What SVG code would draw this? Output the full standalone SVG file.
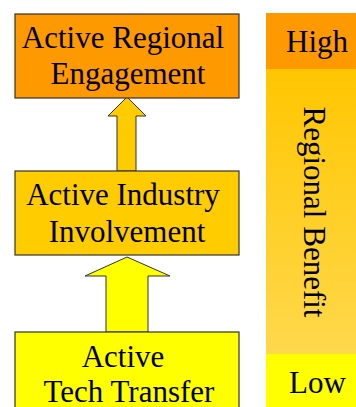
<svg xmlns="http://www.w3.org/2000/svg" width="356" height="407" viewBox="0 0 356 407">
<style>
.box{stroke:#333;stroke-width:1.2}
.arr{stroke:#333;stroke-width:1}
text{font-family:"Liberation Serif","Times New Roman",serif;font-size:31px;fill:#000;text-anchor:middle}
</style>
<defs>
<linearGradient id="g" x1="0" y1="0" x2="0" y2="1">
<stop offset="0" stop-color="#FFC600"/>
<stop offset="1" stop-color="#FFD84C"/>
</linearGradient>
</defs>
<rect width="356" height="407" fill="#fff"/>
<g id="scale">
<rect x="266" y="13" width="90" height="56" fill="#FF9900"/>
<rect x="266" y="69" width="90" height="285" fill="url(#g)"/>
<rect x="266" y="354" width="90" height="53" fill="#FFFF00"/>
<text x="317" y="52">High</text>
<text x="317.5" y="393">Low</text>
<text transform="translate(304 212) rotate(90)">Regional Benefit</text>
</g>
<g id="connectors">
<polygon class="arr" fill="#FFCC00" points="127,97 146,116 136,116 136,171 117,171 117,116 108,116"/>
<polygon class="arr" fill="#FFFF00" points="127,257 170,276 148,276 148,332 106,332 106,276 85,276"/>
</g>
<g id="n1">
<rect class="box" x="15" y="14" width="224" height="84" fill="#FF9900"/>
<text x="123" y="48">Active Regional</text>
<text x="128" y="84">Engagement</text>
</g>
<g id="n2">
<rect class="box" x="15" y="171" width="224" height="84" fill="#FFCC00"/>
<text x="123" y="205">Active Industry</text>
<text x="127" y="242">Involvement</text>
</g>
<g id="n3">
<rect class="box" x="15" y="332" width="224" height="90" fill="#FFFF00"/>
<text x="123" y="367">Active</text>
<text x="129" y="402">Tech Transfer</text>
</g>
</svg>
